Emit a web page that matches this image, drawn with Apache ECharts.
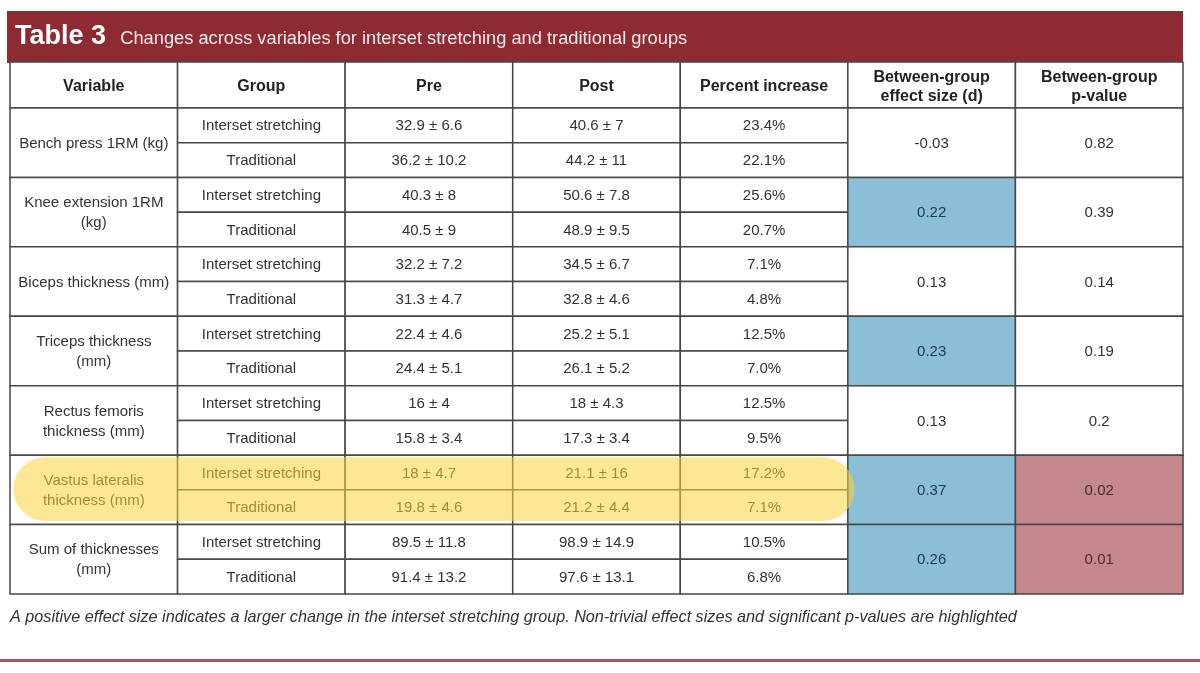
<!DOCTYPE html>
<html><head><meta charset="utf-8">
<script src="https://cdn.jsdelivr.net/npm/echarts@6/dist/echarts.min.js"></script>
<style>html,body{margin:0;padding:0;background:#fff}#c{width:1200px;height:673px}</style>
</head><body><div id="c"></div>
<script>
const FONT = '"Liberation Sans", Arial, Helvetica, sans-serif';
const titleLabel = 'Table 3';
const subtitleLabel = 'Changes across variables for interset stretching and traditional groups';
const footnote = 'A positive effect size indicates a larger change in the interset stretching group. Non-trivial effect sizes and significant p-values are highlighted';
const headers = ['Variable', 'Group', 'Pre', 'Post', 'Percent increase', 'Between-group\neffect size (d)', 'Between-group\np-value'];
const variables = ['Bench press 1RM (kg)', 'Knee extension 1RM\n(kg)', 'Biceps thickness (mm)', 'Triceps thickness\n(mm)', 'Rectus femoris\nthickness (mm)', 'Vastus lateralis\nthickness (mm)', 'Sum of thicknesses\n(mm)'];
const groups = ['Interset stretching', 'Traditional'];
const pre = ['32.9 ± 6.6', '36.2 ± 10.2', '40.3 ± 8', '40.5 ± 9', '32.2 ± 7.2', '31.3 ± 4.7', '22.4 ± 4.6', '24.4 ± 5.1', '16 ± 4', '15.8 ± 3.4', '18 ± 4.7', '19.8 ± 4.6', '89.5 ± 11.8', '91.4 ± 13.2'];
const post = ['40.6 ± 7', '44.2 ± 11', '50.6 ± 7.8', '48.9 ± 9.5', '34.5 ± 6.7', '32.8 ± 4.6', '25.2 ± 5.1', '26.1 ± 5.2', '18 ± 4.3', '17.3 ± 3.4', '21.1 ± 16', '21.2 ± 4.4', '98.9 ± 14.9', '97.6 ± 13.1'];
const pctIncrease = ['23.4%', '22.1%', '25.6%', '20.7%', '7.1%', '4.8%', '12.5%', '7.0%', '12.5%', '9.5%', '17.2%', '7.1%', '10.5%', '6.8%'];
const effectSize = [-0.03, 0.22, 0.13, 0.23, 0.13, 0.37, 0.26];
const pValue = [0.82, 0.39, 0.14, 0.19, 0.2, 0.02, 0.01];
const effectHighlighted = [false, true, false, true, false, true, true];
const pHighlighted = [false, false, false, false, false, true, true];
const markedVariable = 'Vastus lateralis\nthickness (mm)';

// layout (units of table columns / body rows)
const HEADER_H = 1.325;
const cells = [];
headers.forEach((h, i) => cells.push({x0: i, x1: i + 1, y0: -HEADER_H, y1: 0, text: h, kind: 'head'}));
variables.forEach((v, b) => {
  const r = 2 * b;
  cells.push({x0: 0, x1: 1, y0: r, y1: r + 2, text: v, kind: 'body'});
  for (let g = 0; g < 2; g++) {
    const k = r + g;
    cells.push({x0: 1, x1: 2, y0: k, y1: k + 1, text: groups[g], kind: 'body'});
    cells.push({x0: 2, x1: 3, y0: k, y1: k + 1, text: pre[k], kind: 'body'});
    cells.push({x0: 3, x1: 4, y0: k, y1: k + 1, text: post[k], kind: 'body'});
    cells.push({x0: 4, x1: 5, y0: k, y1: k + 1, text: pctIncrease[k], kind: 'body'});
  }
  cells.push({x0: 5, x1: 6, y0: r, y1: r + 2, text: String(effectSize[b]), kind: effectHighlighted[b] ? 'blue' : 'body'});
  cells.push({x0: 6, x1: 7, y0: r, y1: r + 2, text: String(pValue[b]), kind: pHighlighted[b] ? 'red' : 'body'});
});
const mb = variables.indexOf(markedVariable);
const marker = [[0.02, 5.04, 2 * mb + 0.06, 2 * mb + 1.9]];

const fills = {head: '#ffffff', body: '#ffffff', blue: '#8bbfd8', red: '#c4878c'};
const textColors = {head: '#222', body: '#333', blue: '#1e3550', red: '#4a2a2e'};

const chart = echarts.init(document.getElementById('c'), null, {renderer: 'canvas'});
chart.setOption({
  animation: false,
  backgroundColor: '#ffffff',
  title: {
    left: 10, top: 16,
    text: '{a|' + titleLabel + '}{b|  ' + subtitleLabel + '}',
    textStyle: {
      rich: {
        a: {fontSize: 27, fontWeight: 'bold', color: '#fff', fontFamily: FONT, lineHeight: 32},
        b: {fontSize: 18.3, fontWeight: 'normal', color: '#f6eaea', fontFamily: FONT, lineHeight: 32, padding: [4, 0, 0, 4]}
      }
    }
  },
  graphic: [
    {type: 'rect', left: 7, top: 11, z: -10, shape: {width: 1176, height: 52}, style: {fill: '#8e2b32'}},
    {type: 'text', left: 10, top: 609, style: {text: footnote, font: 'italic 16.2px ' + FONT, fill: '#333'}},
    {type: 'rect', left: 0, top: 659, shape: {width: 1200, height: 3}, style: {fill: '#a9535c'}}
  ],
  grid: {left: 10, right: 17, top: 62, bottom: 79},
  xAxis: {type: 'value', min: 0, max: 7, show: false},
  yAxis: {type: 'value', min: -HEADER_H, max: 14, inverse: true, show: false},
  series: [
    {
      type: 'custom',
      coordinateSystem: 'cartesian2d',
      encode: {x: [0, 1], y: [2, 3]},
      data: cells.map(c => [c.x0, c.x1, c.y0, c.y1]),
      renderItem: function (params, api) {
        const c = cells[params.dataIndex];
        const p0 = api.coord([api.value(0), api.value(2)]);
        const p1 = api.coord([api.value(1), api.value(3)]);
        const x = Math.min(p0[0], p1[0]), y = Math.min(p0[1], p1[1]);
        const w = Math.abs(p1[0] - p0[0]), h = Math.abs(p1[1] - p0[1]);
        const isHead = c.kind === 'head';
        return {
          type: 'group',
          children: [
            {type: 'rect', shape: {x: x, y: y, width: w, height: h},
             style: {fill: fills[c.kind], stroke: '#474747', lineWidth: 1.5}},
            {type: 'text', style: {
              text: c.text, x: x + w / 2, y: y + h / 2 + (isHead ? 2 : 1),
              align: 'center', verticalAlign: 'middle',
              fontSize: isHead ? 16 : 15, fontWeight: isHead ? 'bold' : 'normal',
              fontFamily: FONT, lineHeight: isHead ? 19 : 20,
              fill: textColors[c.kind]
            }}
          ]
        };
      }
    },
    {
      type: 'custom',
      coordinateSystem: 'cartesian2d',
      z: 5,
      encode: {x: [0, 1], y: [2, 3]},
      data: marker,
      renderItem: function (params, api) {
        const p0 = api.coord([api.value(0), api.value(2)]);
        const p1 = api.coord([api.value(1), api.value(3)]);
        const w = p1[0] - p0[0], h = p1[1] - p0[1];
        return {type: 'rect', shape: {x: p0[0], y: p0[1], width: w, height: h, r: [h / 2, h / 2, h / 2, h / 2]},
                style: {fill: 'rgba(252, 211, 60, 0.55)'}};
      }
    }
  ]
});
</script></body></html>
